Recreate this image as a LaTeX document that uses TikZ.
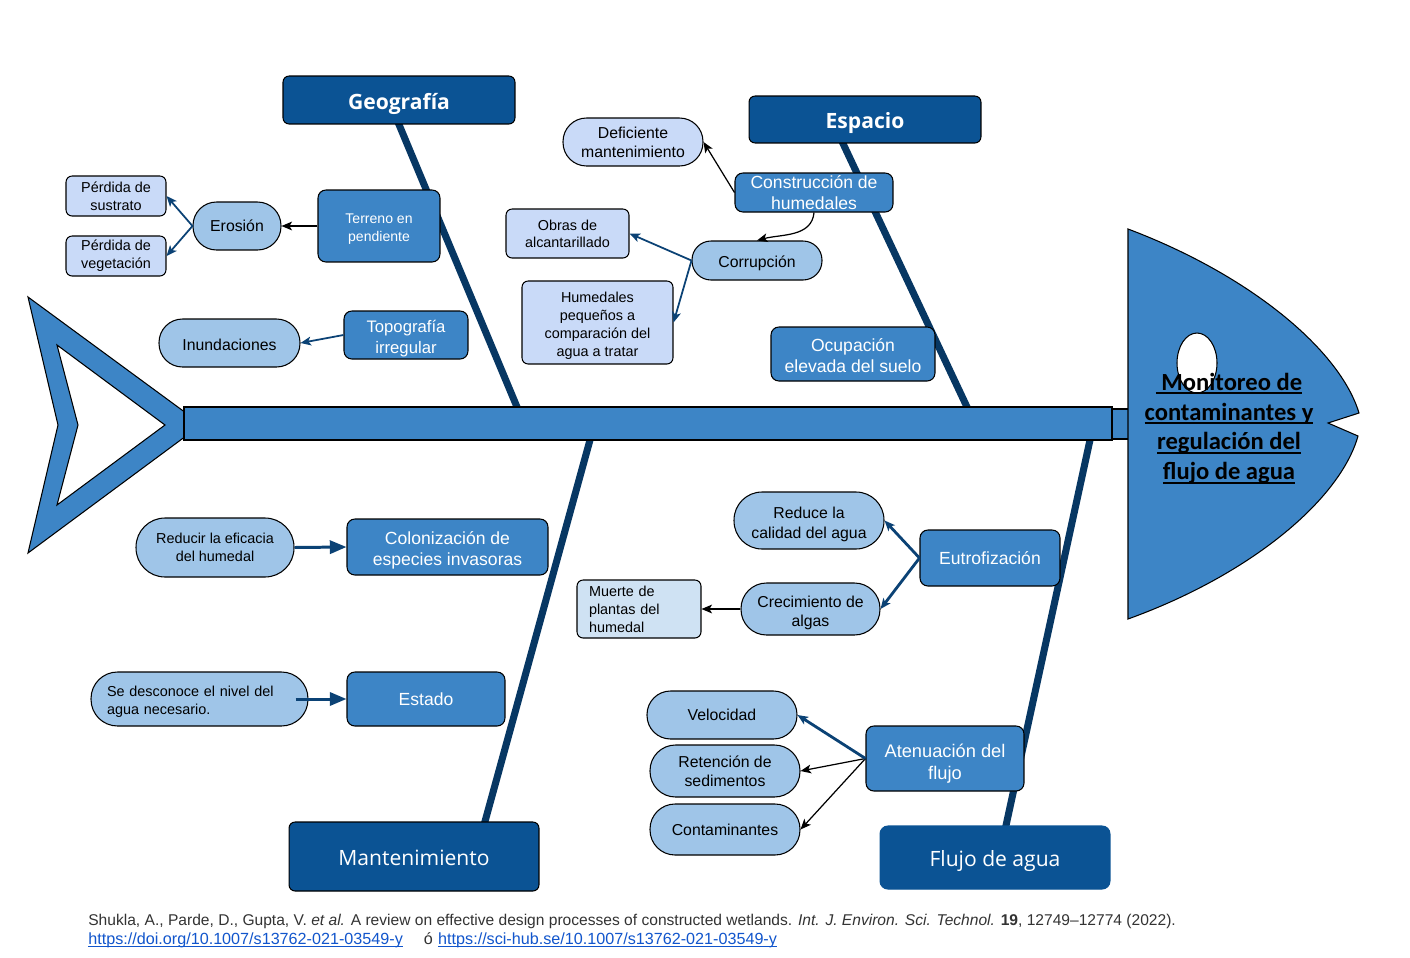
\documentclass[tikz,border=0pt]{standalone}
\usepackage{fontspec}
\setmainfont{Liberation Sans}
\newfontfamily\catfont{Open Sans}
\newfontfamily\headfont{Carlito}
\usetikzlibrary{arrows.meta,backgrounds}
\definecolor{catblue}{HTML}{0B5394}
\definecolor{midblue}{HTML}{3D85C6}
\definecolor{pillblue}{HTML}{9FC5E8}
\definecolor{noteblue}{HTML}{C9DAF8}
\definecolor{paleblue}{HTML}{CFE2F3}
\definecolor{bonecol}{HTML}{073763}
\definecolor{arrowblue}{HTML}{0B4275}
\definecolor{linkblue}{HTML}{1155CC}
\definecolor{captxt}{HTML}{333333}
\newcommand\undl[1]{\setbox0\hbox{#1}\rlap{\vrule height -0.09em depth 0.16em width \wd0}\box0}
\begin{document}
\begin{tikzpicture}[x=0.02cm,y=-0.02cm,
  cat node/.style={draw=black,fill=catblue,rounded corners=3.5pt,text=white,line width=0.6pt,text height=11.6pt,text depth=1pt,font=\catfont\fontsize{12}{14}\selectfont},
  mid node/.style={draw=black,fill=midblue,rounded corners=4.5pt,text=white,align=center,line width=0.6pt,inner ysep=0.5pt,font=\fontsize{10}{12}\selectfont},
  pill node/.style={draw=black,fill=pillblue,rounded corners=#1,align=center,line width=0.6pt,inner ysep=1pt,font=\fontsize{9}{10.8}\selectfont},
  pill node/.default=0.47cm,
  note node/.style={draw=black,fill=noteblue,rounded corners=3.5pt,align=center,line width=0.6pt,inner ysep=1pt,font=\fontsize{8.2}{10.2}\selectfont},
  bone/.style={line width=4pt,bonecol,shorten <=-3pt,shorten >=-4pt},
  thin arrow/.style={-{Stealth[length=6pt,width=5pt,inset=1.5pt]},line width=0.7pt,black},
  blue arrow/.style={-{Stealth[length=6pt,width=5pt,inset=1.5pt]},line width=1pt,arrowblue},
  big arrow/.style={-{Triangle[length=9.5pt,width=7.5pt]},line width=1.7pt,arrowblue},
  caption/.style={anchor=west,inner sep=0pt,text=captxt,font=\fontsize{8.87}{10.5}\selectfont}]

  \useasboundingbox (0,0) rectangle (1410,957);

  \draw[fill=midblue,line width=0.6pt,even odd rule] (28,297) -- (186,413) -- (186,436) -- (28,553) -- (58,425) -- cycle
    (57,345) -- (165,425) -- (57,505) -- (78,425) -- cycle;
  \draw[fill=midblue,line width=0.6pt] (184,407) rectangle (1112,440);
  \draw[fill=midblue,line width=0.6pt] (1112,409) rectangle (1135,439);
  \draw[fill=midblue,line width=0.6pt] (1128,229) .. controls (1250,275) and (1340,350) .. (1359,413) -- (1328,423) -- (1358,436)
    .. controls (1340,500) and (1250,575) .. (1128,619) -- cycle;
  \draw[fill=white,line width=0.6pt] (1197,363) ellipse [x radius=0.4cm,y radius=0.6cm];
  \node[align=center,font=\headfont\bfseries\fontsize{14}{17}\selectfont] (head) at (1229,428.5)
    {\undl{\ Monitoreo de}\\\undl{contaminantes y}\\\undl{regulación del}\\\undl{flujo de agua}};

  \coordinate (sp-geo) at (517,407);
  \coordinate (sp-esp) at (967,407);
  \coordinate (sp-man) at (590,440);
  \coordinate (sp-flu) at (1090,440);

  \node[cat node,font=\catfont\bfseries\fontsize{12}{14}\selectfont,minimum width=4.64cm,minimum height=0.96cm] (geo) at (399,100) {Geografía};
  \node[cat node,font=\catfont\bfseries\fontsize{12}{14}\selectfont,minimum width=4.64cm,minimum height=0.94cm] (esp) at (865,119.5) {Espacio};
  \node[cat node,minimum width=5.0cm,minimum height=1.38cm] (man) at (414,856.5) {Mantenimiento};
  \node[cat node,draw=catblue,rounded corners=4.5pt,minimum width=4.6cm,minimum height=1.26cm] (flu) at (995,857.5) {Flujo de agua};

  \node[mid node,font=\fontsize{8}{10}\selectfont,minimum width=2.44cm,minimum height=1.44cm] (ter) at (379,226) {\rule{0pt}{9pt}Terreno en\\pendiente};
  \node[mid node,font=\fontsize{9.5}{12}\selectfont,minimum width=2.48cm,minimum height=0.96cm] (top) at (406,335) {\rule{0pt}{11.5pt}Topografía\\irregular};
  \node[mid node,minimum width=3.16cm,minimum height=0.78cm] (con) at (814,192.5) {Construcción de\\humedales};
  \node[mid node,minimum width=3.28cm,minimum height=1.08cm] (ocu) at (853,354) {\rule{0pt}{9.5pt}Ocupación\\elevada del suelo};
  \node[mid node,minimum width=4.02cm,minimum height=1.12cm] (col) at (447.5,547) {\rule{0pt}{11pt}Colonización de\\especies invasoras};
  \node[mid node,minimum width=3.16cm,minimum height=1.08cm] (est) at (426,699) {Estado};
  \node[mid node,minimum width=2.8cm,minimum height=1.12cm] (eut) at (990,558) {Eutrofización};
  \node[mid node,font=\fontsize{10.4}{12.5}\selectfont,minimum width=3.16cm,minimum height=1.3cm] (ate) at (945,758.5) {\rule{0pt}{13pt}Atenuación del\\flujo};

  \node[pill node,minimum width=1.76cm,minimum height=0.96cm] (ero) at (237,226) {Erosión};
  \node[pill node,minimum width=2.82cm,minimum height=0.96cm] (inu) at (229.5,343) {\rule{0pt}{8.5pt}Inundaciones};
  \node[pill node=0.38cm,minimum width=2.6cm,minimum height=0.78cm,text height=9.5pt,text depth=1pt] (cor) at (757,260.5) {Corrupción};
  \node[pill node,fill=noteblue,minimum width=2.8cm,minimum height=0.96cm] (def) at (633,142) {Deficiente\\mantenimiento};
  \node[pill node=0.58cm,font=\fontsize{8.2}{10.2}\selectfont,minimum width=3.16cm,minimum height=1.18cm] (red) at (215,547.5) {Reducir la eficacia\\del humedal};
  \node[pill node=0.53cm,font=\fontsize{8.2}{10.2}\selectfont,align=left,text width=3.7cm,inner xsep=0.32cm,minimum height=1.08cm] (sed) at (199.5,699) {\rule{0pt}{9pt}Se desconoce el nivel del\\agua necesario.};
  \node[pill node=0.56cm,font=\fontsize{9}{11.3}\selectfont,minimum width=3.0cm,minimum height=1.14cm] (rca) at (809,520.5) {\rule{0pt}{10.5pt}Reduce la\\calidad del agua};
  \node[pill node=0.51cm,minimum width=2.78cm,minimum height=1.04cm] (cre) at (810.5,609) {\rule{0pt}{10.5pt}Crecimiento de\\algas};
  \node[pill node,minimum width=3.0cm,minimum height=0.96cm] (vel) at (722,715) {Velocidad};
  \node[pill node=0.51cm,minimum width=3.0cm,minimum height=1.04cm] (ret) at (725,771) {Retención de\\sedimentos};
  \node[pill node=0.5cm,minimum width=3.0cm,minimum height=1.02cm] (cnt) at (725,829.5) {Contaminantes};

  \node[note node,minimum width=2.0cm,minimum height=0.8cm] (ps) at (116,196) {Pérdida de\\sustrato};
  \node[note node,minimum width=2.0cm,minimum height=0.8cm] (pv) at (116,256) {Pérdida de\\vegetación};
  \node[note node,font=\fontsize{8.2}{9.6}\selectfont,minimum width=2.46cm,minimum height=0.98cm] (obr) at (567.5,233.5) {Obras de\\alcantarillado};
  \node[note node,minimum width=3.02cm,minimum height=1.66cm] (hum) at (597.5,322.5) {\rule{0pt}{10pt}Humedales\\pequeños a\\comparación del\\agua a tratar};
  \node[note node,fill=paleblue,align=left,text width=2.0cm,inner xsep=0.24cm,minimum height=1.16cm] (mue) at (639,609) {Muerte de\\plantas del\\humedal};

  \begin{scope}[on background layer]
    \fill[white] (0,0) rectangle (1410,957);
    \draw[bone] (geo.south) -- (sp-geo);
    \draw[bone] ([xshift=-0.44cm]esp.south) -- (sp-esp);
    \draw[bone] ([xshift=1.42cm]man.north) -- (sp-man);
    \draw[bone] ([xshift=0.22cm]flu.north) -- (sp-flu);
  \end{scope}

  \path[thin arrow]
   (ter.west) edge (ero.east)
   (con.west) edge (def.east)
   (con.south) edge[out=-95,in=15] (cor.north)
   (cre.west) edge (mue.east)
   (ate.west) edge (ret.east)
   (ate.west) edge (cnt.east);
  \path[blue arrow]
   (ero.west) edge (ps.east)
   (ero.west) edge (pv.east)
   (top.west) edge (inu.east)
   (cor.west) edge (obr.east)
   (cor.west) edge (hum.east);
  \path[blue arrow,line width=1.6pt]
   (eut.west) edge (rca.east)
   (eut.west) edge (cre.east)
   (ate.west) edge (vel.east);
  \path[big arrow]
   (red.east) edge (col.west)
   ([xshift=-0.26cm]sed.east) edge (est.west);

  \node[caption] (cap1) at (88,921) {Shukla, A., Parde, D., Gupta, V. \textit{et al.} A review on effective design processes of constructed wetlands. \textit{Int. J. Environ. Sci. Technol.} \textbf{19}, 12749–12774 (2022).};
  \node[caption,font=\fontsize{9.2}{10.5}\selectfont] (cap2) at (88,940) {\textcolor{linkblue}{\undl{https://doi.org/10.1007/s13762-021-03549-y}}\hspace{12pt}ó\hspace{3pt}\textcolor{linkblue}{\undl{https://sci-hub.se/10.1007/s13762-021-03549-y}}};
\end{tikzpicture}
\end{document}
